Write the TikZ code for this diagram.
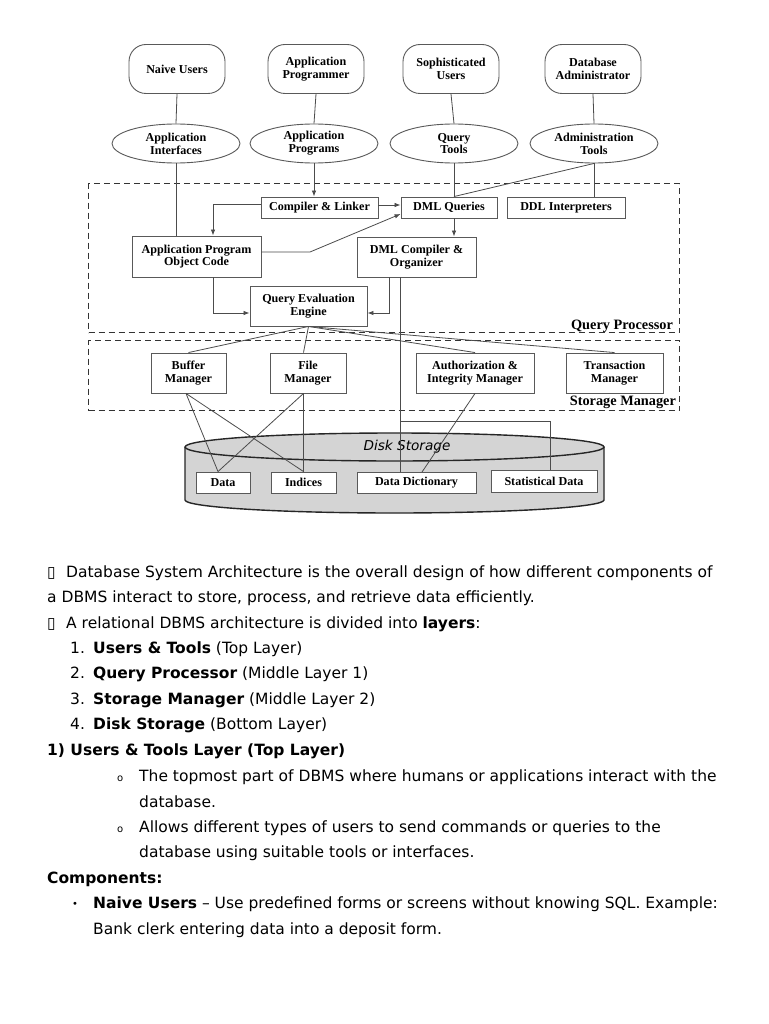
\documentclass[tikz,border=0pt]{standalone}
\usepackage{fontspec}
\setmainfont{Liberation Serif}
\newfontfamily\djv{DejaVu Sans}
\usetikzlibrary{shapes.geometric,arrows.meta,calc}
\tikzset{
  lbl/.style={font=\bfseries\fontsize{12.1}{12.8}\selectfont, align=center, text=black},
  user/.style={lbl, draw=black!65, line width=0.9pt, rounded corners=17pt, minimum width=96pt, minimum height=49pt, inner sep=0pt},
  tool/.style={lbl, draw=black!65, line width=0.9pt, ellipse, minimum width=128pt, minimum height=39pt, inner sep=0pt},
  box/.style={lbl, draw=black!65, line width=0.9pt, fill=white, inner sep=0pt},
  ln/.style={draw=black!70, line width=0.8pt},
  arr/.style={ln, -{Latex[length=6pt,width=4.5pt]}},
  layer/.style={draw=black!80, line width=1.1pt, dash pattern=on 6pt off 4pt, inner sep=0pt, anchor=north west},
  layername/.style={font=\bfseries\fontsize{14.3}{15}\selectfont, anchor=base east, inner sep=0pt},
  body/.style={font=\djv\fontsize{15.5}{25}\selectfont, anchor=base west, inner sep=0pt},
  smallo/.style={font=\djv\fontsize{10}{12}\selectfont, anchor=base west, inner sep=0pt},
}
\colorlet{diskfill}{black!17}
\begin{document}
\begin{tikzpicture}[x=1pt,y=-1pt]
\useasboundingbox[fill=white] (0,0) rectangle (768,1024);

% layers
\node[layer, minimum width=591pt, minimum height=149pt] (qp) at (88,183) {};
\node[layer, minimum width=591pt, minimum height=70pt] (sm) at (88,340) {};
\node[layername] (qpl) at ($(qp.south east)+(-7,-4)$) {Query Processor};
\node[layername] (sml) at ($(sm.south east)+(-4,-6)$) {Storage Manager};

% disk storage cylinder
\fill[diskfill] (185,447) -- (185,500) arc[start angle=180,end angle=360,x radius=209.5pt,y radius=13pt] -- (604,447) -- cycle;
\draw[black!85, line width=1.4pt] (185,447) -- (185,500) arc[start angle=180,end angle=360,x radius=209.5pt,y radius=13pt] -- (604,447);
\draw[black!85, line width=1.4pt, fill=diskfill] (394.5,447) ellipse [x radius=209.5pt, y radius=14pt];
\node[font=\djv\itshape\fontsize{13.6}{14}\selectfont, inner sep=0pt, text=black] (dsk) at (407,447) {Disk Storage};

% users
\node[user] (nu) at (177,69) {Naive Users};
\node[user] (ap) at (316,69) {Application\\Programmer};
\node[user] (su) at (451,69) {Sophisticated\\Users};
\node[user] (dba) at (593,69) {Database\\Administrator};

% tools
\node[tool] (ai) at (176,143.5) {Application\\Interfaces};
\node[tool] (apg) at (314,143.5) {Application\\Programs};
\node[tool] (qt) at (454,143.5) {Query\\Tools};
\node[tool] (adt) at (594,143.5) {Administration\\Tools};

% query processor
\node[box, minimum width=117pt, minimum height=21pt] (cl) at (319.5,207.5) {Compiler \& Linker};
\node[box, minimum width=96pt, minimum height=21pt] (dq) at (449,207.5) {DML Queries};
\node[box, minimum width=118pt, minimum height=21pt] (ddl) at (566,207.5) {DDL Interpreters};
\node[box, minimum width=129pt, minimum height=41pt] (apoc) at (196.5,256.5) {Application Program\\Object Code};
\node[box, minimum width=119pt, minimum height=40pt] (dmlc) at (416.5,257) {DML Compiler \&\\Organizer};
\node[box, minimum width=117pt, minimum height=40pt] (qee) at (308.5,306) {Query Evaluation\\Engine};

% storage manager
\node[box, minimum width=75pt, minimum height=40pt] (bm) at (188.5,373) {Buffer\\Manager};
\node[box, minimum width=76pt, minimum height=40pt] (fm) at (308,373) {File\\Manager};
\node[box, minimum width=118pt, minimum height=40pt] (aim) at (475,373) {Authorization \&\\Integrity Manager};
\node[box, minimum width=97pt, minimum height=40pt] (tm) at (614.5,373) {Transaction\\Manager};

% disk contents
\node[box, minimum width=54pt, minimum height=21pt] (data) at (223,482.5) {Data};
\node[box, minimum width=65pt, minimum height=21pt] (idx) at (303.5,482.5) {Indices};
\node[box, minimum width=119pt, minimum height=21pt] (dd) at (416.5,483) {Data Dictionary};
\node[box, minimum width=106pt, minimum height=22pt] (sd) at (544,481.5) {Statistical Data};

% helper coordinates
\coordinate (xq) at (454,0);
\coordinate (xo) at (213,0);
\coordinate (xk) at (310,0);
\coordinate (xd) at (389,0);
\coordinate (xv) at (400,0);
\coordinate (br) at (400,421);
\coordinate (xs) at (550,0);
\coordinate (ak) at ([yshift=4.5pt]apoc.east);

% connectors: users to tools
\draw[ln] (nu.south) -- (ai.north);
\draw[ln] (ap.south) -- (apg.north);
\draw[ln] (su.south) -- (qt.north);
\draw[ln] (dba.south) -- (adt.north);

% tools to query processor
\draw[ln] (ai.south) -- (ai.south |- apoc.north);
\draw[arr] (apg.south) -- (apg.south |- cl.north);
\draw[ln] (qt.south) -- (xq |- dq.north);
\draw[ln] (adt.south) -- (adt.south |- ddl.north);
\draw[ln] (adt.south) -- (xq |- dq.north);

% inside query processor
\draw[arr] ([yshift=3.5pt]cl.west) -| (xo |- apoc.north);
\draw[arr] ([yshift=2.5pt]cl.east) -- ([yshift=2.5pt]dq.west);
\draw[arr] (ak) -- (xk |- ak) -- ([yshift=-6.5pt]dq.west);
\draw[arr] (xq |- dq.south) -- (xq |- dmlc.north);
\draw[arr] (xo |- apoc.south) |- ([yshift=-7pt]qee.west);
\draw[arr] (xd |- dmlc.south) |- ([yshift=-7pt]qee.east);
\draw[ln] (xv |- dmlc.south) -- (xv |- dd.north);
\draw[ln] (br) -| (xs |- sd.north);

% query evaluation engine to storage manager
\draw[ln] (qee.south) -- (bm.north);
\draw[ln] (qee.south) -- ([xshift=-4.5pt]fm.north);
\draw[ln] (qee.south) -- (aim.north);
\draw[ln] (qee.south) -- (tm.north);

% storage manager to disk
\draw[ln] ([xshift=-2.5pt]bm.south) -- ([xshift=-5pt]data.north);
\draw[ln] ([xshift=-2.5pt]bm.south) -- (idx.north);
\draw[ln] ([xshift=-4.5pt]fm.south) -- ([xshift=-5pt]data.north);
\draw[ln] ([xshift=-4.5pt]fm.south) -- (idx.north);
\draw[ln] (aim.south) -- ([xshift=5.5pt]dd.north);

% body text
\node[body] (t1a) at (47,577.5) {▯};
\node[body] (t1) at (66,577.5) {Database System Architecture is the overall design of how different components of};
\node[body] (t2) at (47,602.5) {a DBMS interact to store, process, and retrieve data efficiently.};
\node[body] (t3a) at (47,628.5) {▯};
\node[body] (t3) at (66,628.5) {A relational DBMS architecture is divided into \textbf{layers}:};
\node[body] (n1) at (70,653.5) {1.};
\node[body] (t4) at (93,653.5) {\textbf{Users \& Tools} (Top Layer)};
\node[body] (n2) at (70,678.5) {2.};
\node[body] (t5) at (93,678.5) {\textbf{Query Processor} (Middle Layer 1)};
\node[body] (n3) at (70,704.5) {3.};
\node[body] (t6) at (93,704.5) {\textbf{Storage Manager} (Middle Layer 2)};
\node[body] (n4) at (70,729.5) {4.};
\node[body] (t7) at (93,729.5) {\textbf{Disk Storage} (Bottom Layer)};
\node[body] (t8) at (47,755.5) {\textbf{1) Users \& Tools Layer (Top Layer)}};
\node[smallo] (o1) at (117,781.5) {o};
\node[body] (t9) at (139,781.5) {The topmost part of DBMS where humans or applications interact with the};
\node[body] (t10) at (139,807.5) {database.};
\node[smallo] (o2) at (117,832.5) {o};
\node[body] (t11) at (139,832.5) {Allows different types of users to send commands or queries to the};
\node[body] (t12) at (139,857.5) {database using suitable tools or interfaces.};
\node[body] (t13) at (47,883.5) {\textbf{Components:}};
\node[smallo] (b1) at (72,907.5) {•};
\node[body] (t14) at (93,908.5) {\textbf{Naive Users} – Use predefined forms or screens without knowing SQL. Example:};
\node[body] (t15) at (93,934.5) {Bank clerk entering data into a deposit form.};
\end{tikzpicture}
\end{document}
